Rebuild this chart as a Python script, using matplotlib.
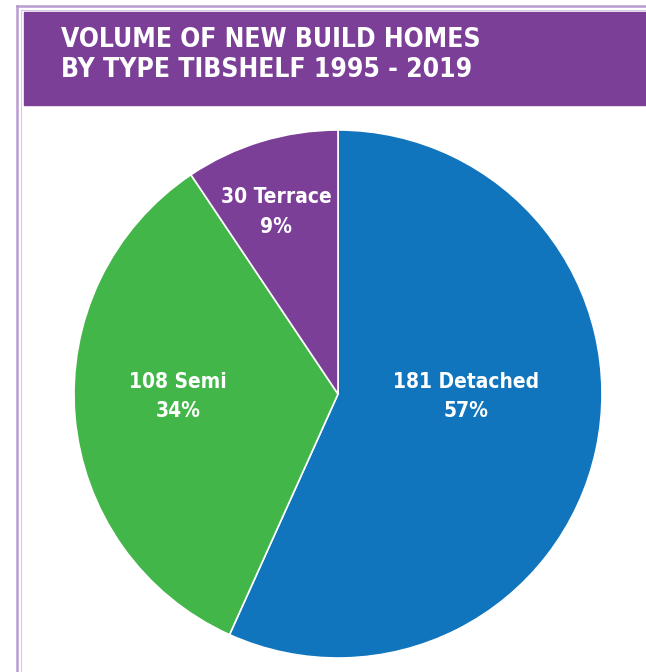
import matplotlib.pyplot as plt
from matplotlib.patches import Rectangle
from matplotlib.lines import Line2D

# data
types = ["Detached", "Semi", "Terrace"]
counts = [181, 108, 30]
percents = [57, 34, 9]
colours = ["#1175bd", "#43b649", "#7b3f98"]
title = "VOLUME OF NEW BUILD HOMES\nBY TYPE TIBSHELF 1995 - 2019"

W, H = 646, 672
fig = plt.figure(figsize=(W / 100, H / 100), dpi=100)
fig.patch.set_facecolor("white")

def fx(px):
    return px / W

def fy(py):
    return 1 - py / H

# frame lines
fig.add_artist(Line2D([fx(17), fx(17)], [fy(6), 0], color="#b99ad1", lw=1.8))
fig.add_artist(Line2D([fx(17), 1], [fy(6), fy(6)], color="#b99ad1", lw=1.8))
fig.add_artist(Line2D([fx(21), fx(21)], [fy(10), 0], color="#d8c8e6", lw=0.8))
fig.add_artist(Line2D([fx(21), 1], [fy(10), fy(10)], color="#d8c8e6", lw=0.8))

# header band
fig.add_artist(Rectangle((fx(24), fy(105)), 1 - fx(24), fy(12) - fy(105),
                         transform=fig.transFigure, color="#7b3f98"))
fig.text(fx(61), fy(55), title, color="white", fontsize=19, fontweight="bold",
         family="DejaVu Sans", fontstretch="condensed", va="center", ha="left",
         linespacing=1.17)

# pie
cx, cy, r = 338, 394, 264
ax = fig.add_axes([fx(cx - r), fy(cy + r), 2 * r / W, 2 * r / H])
ax.pie(counts, colors=colours, startangle=90, counterclock=False,
       wedgeprops={"edgecolor": "white", "linewidth": 1.2})
ax.set_xlim(-1, 1)
ax.set_ylim(-1, 1)
ax.set_aspect("equal")
ax.axis("off")

# label positions (in pie radius units)
label_pos = [(0.485, -0.01), (-0.606, -0.01), (-0.233, 0.69)]
for t, c, p, (lx, ly) in zip(types, counts, percents, label_pos):
    ax.text(lx, ly, f"{c} {t}\n{p}%", color="white", fontsize=15, fontweight="bold",
            family="DejaVu Sans", fontstretch="condensed", ha="center", va="center",
            linespacing=1.6)

fig.savefig("out.png", dpi=100)
